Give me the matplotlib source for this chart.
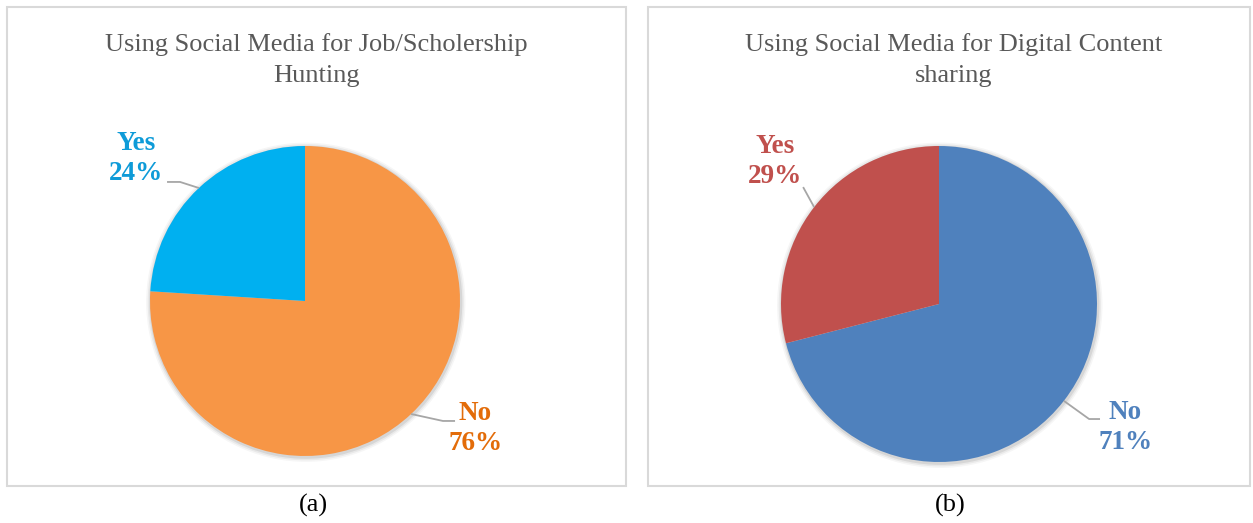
import matplotlib.pyplot as plt
from matplotlib.patches import Rectangle
import numpy as np

plt.rcParams['font.family'] = ['Liberation Serif', 'DejaVu Serif']

# Datos de las dos encuestas
categorias = ['No', 'Yes']
valores_trabajo = [76, 24]
valores_contenido = [71, 29]
titulo_trabajo = 'Using Social Media for Job/Scholership\nHunting'
titulo_contenido = 'Using Social Media for Digital Content\nsharing'
subtitulos = ['(a)', '(b)']

W, H = 1253, 523
fig = plt.figure(figsize=(W / 100, H / 100), dpi=100)


def px_axes(cx, cy, r):
    """Crea un eje cuadrado centrado en (cx, cy) en pixeles, de radio r."""
    return fig.add_axes([(cx - r) / W, (H - cy - r) / H, 2 * r / W, 2 * r / H])


def marco(x0, y0, x1, y1):
    fig.patches.append(Rectangle((x0 / W, 1 - y1 / H), (x1 - x0) / W, (y1 - y0) / H,
                                 transform=fig.transFigure, fill=False,
                                 edgecolor='#D9D9D9', linewidth=1.5))


def dibujar_pie(cx, cy, r, valores, colores, colores_txt, etiquetas_pos, codos):
    ax = px_axes(cx, cy, r)
    # sombra suave alrededor de la tarta
    for k, a in zip([1.03, 1.02, 1.01], [0.035, 0.05, 0.08]):
        ax.add_patch(plt.Circle((0.005, -0.008), k, color='black', alpha=a, lw=0,
                                clip_on=False))
    wedges, _ = ax.pie(valores, colors=colores, startangle=90, counterclock=False,
                       radius=1, wedgeprops=dict(linewidth=0))
    for w, cat, val, col, pos, codo in zip(wedges, categorias, valores, colores_txt,
                                            etiquetas_pos, codos):
        ang = np.deg2rad((w.theta1 + w.theta2) / 2)
        p0 = (np.cos(ang), np.sin(ang))
        xs = [p0[0]] + [c[0] for c in codo]
        ys = [p0[1]] + [c[1] for c in codo]
        ax.plot(xs, ys, color='#A6A6A6', lw=1.3, solid_capstyle='butt', clip_on=False)
        ax.text(pos[0], pos[1], f'{cat}\n{val}%', color=col, fontsize=19.5,
                fontweight='bold', ha='center', va='center', linespacing=1.27)
    ax.set_xlim(-1, 1)
    ax.set_ylim(-1, 1)
    ax.set_aspect('equal')
    ax.axis('off')
    return ax


# Paneles
marco(7, 7, 626, 486)
marco(648, 7, 1250, 486)

# (a) Trabajo / becas
dibujar_pie(305, 301, 155, valores_trabajo,
            ['#F79646', '#00B0F0'], ['#E36C09', '#0E9BD8'],
            [(1.10, -0.82), (-1.09, 0.92)],
            [[(0.89, -0.774), (0.968, -0.774)], [(-0.806, 0.768), (-0.89, 0.768)]])

# (b) Contenido digital
dibujar_pie(939, 304, 158, valores_contenido,
            ['#4F81BD', '#C0504D'], ['#4F81BD', '#C0504D'],
            [(1.18, -0.78), (-1.04, 0.90)],
            [[(0.95, -0.728), (1.019, -0.728)], [(-0.86, 0.74)]])

# Titulos
fig.text(316 / W, 1 - 60 / H, titulo_trabajo, ha='center', va='center',
         fontsize=19, color='#595959', linespacing=1.55)
fig.text(954 / W, 1 - 60 / H, titulo_contenido, ha='center', va='center',
         fontsize=19, color='#595959', linespacing=1.55)

# Subtitulos (a) y (b)
fig.text(313 / W, 1 - 505 / H, subtitulos[0], ha='center', va='center',
         fontsize=19, color='black')
fig.text(950 / W, 1 - 505 / H, subtitulos[1], ha='center', va='center',
         fontsize=19, color='black')

plt.savefig('out.png', dpi=100)
